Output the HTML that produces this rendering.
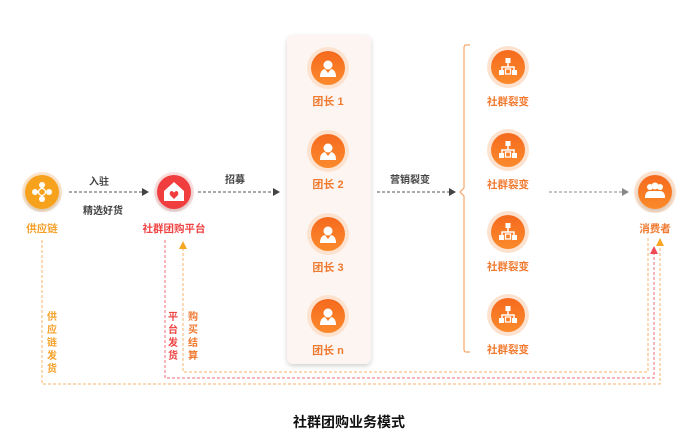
<!DOCTYPE html>
<html><head><meta charset="utf-8"><style>
html,body{margin:0;padding:0;background:#fff;width:698px;height:446px;overflow:hidden}
svg{display:block}
text{font-family:"Liberation Sans","Noto Sans CJK SC",sans-serif;font-weight:bold}
</style></head><body>
<svg width="698" height="446" viewBox="0 0 698 446" xmlns="http://www.w3.org/2000/svg">
<defs>
<filter id="sh" x="-20%" y="-10%" width="140%" height="120%"><feDropShadow dx="0" dy="2" stdDeviation="2.5" flood-color="#000" flood-opacity="0.18"/></filter>
<linearGradient id="og" x1="0" y1="0" x2="0" y2="1"><stop offset="0" stop-color="#f56a1e"/><stop offset="1" stop-color="#fb8a2c"/></linearGradient>
<g id="person"><circle cx="0" cy="-4" r="4.5" fill="#fff"/><path d="M-8 8 Q-8 1 -3 0 L0 4 L3 0 Q8 1 8 8 Z" fill="#fff"/></g>
<g id="tree"><rect x="-2.5" y="-9" width="5" height="5" fill="#fff"/><path d="M0 -4 V0 M-6 4 V0 H6 V4" stroke="#fff" stroke-width="1.5" fill="none"/><rect x="-9" y="3" width="5" height="5" fill="#fff"/><rect x="4" y="3" width="5" height="5" fill="#fff"/><rect x="-2.5" y="2" width="5" height="5" fill="none" stroke="#fff" stroke-width="1.3"/></g>
</defs>

<!-- panel -->
<rect x="287" y="35" width="84" height="329" rx="6" fill="#fcf5f1" filter="url(#sh)"/>

<!-- dashed bottom lines -->
<g fill="none" stroke-dasharray="3,2" stroke-width="1">
<path d="M42 240 V384 H660 V246" stroke="#f5b36a"/>
<path d="M165 240 V378 H654 V254" stroke="#ef6e78"/>
<path d="M648 238 V372 H183 V248" stroke="#f5b36a"/>
</g>
<path d="M656 246 L660 238 L664 246 Z" fill="#f5a623"/>
<path d="M650 254 L654 246 L658 254 Z" fill="#ef4a55"/>
<path d="M179 249 L183 241 L187 249 Z" fill="#f5a623"/>

<!-- horizontal arrows -->
<g stroke="#555" stroke-dasharray="3,2" stroke-width="1">
<line x1="69" y1="192" x2="143" y2="192"/>
<line x1="198" y1="192" x2="274" y2="192"/>
<line x1="377" y1="192" x2="450" y2="192"/>
<line x1="549" y1="192" x2="623" y2="192" stroke="#888"/>
</g>
<g fill="#444">
<path d="M142 188 L149 192 L142 196 Z"/>
<path d="M273 188 L280 192 L273 196 Z"/>
<path d="M449 188 L456 192 L449 196 Z"/>
<path d="M622 188 L629 192 L622 196 Z" fill="#888"/>
</g>
<g font-size="10" fill="#444" text-anchor="middle">
<text x="99" y="185">入驻</text>
<text x="103" y="214">精选好货</text>
<text x="235" y="183">招募</text>
<text x="410" y="183">营销裂变</text>
</g>

<!-- bracket -->
<path d="M470 45 H466 Q464 45 464 48 V188 L460 192 L464 196 V349 Q464 352 466 352 H470" fill="none" stroke="#f4a66a" stroke-width="1.2"/>

<!-- supply chain -->
<circle cx="42" cy="192" r="20" fill="#fde6cc"/>
<circle cx="42" cy="192" r="17" fill="#f7a21f" filter="url(#sh)"/>
<g fill="#fff"><circle cx="42" cy="185" r="3"/><circle cx="35" cy="192" r="3"/><circle cx="49" cy="192" r="3"/><circle cx="42" cy="199" r="3"/></g>
<circle cx="42" cy="192" r="3.5" fill="none" stroke="#fff" stroke-width="1.3"/>
<text x="42" y="232" font-size="10.5" fill="#f5a02a" text-anchor="middle">供应链</text>

<!-- platform -->
<circle cx="174" cy="192" r="20" fill="#fde0e0"/>
<circle cx="174" cy="192" r="17" fill="#f03c3c" filter="url(#sh)"/>
<path d="M174 182 L184 191 V201 H164 V191 Z" fill="#fff"/>
<path d="M174 199 L170 195 Q169 191 172 191 Q174 192 174 193 Q174 192 176 191 Q179 191 178 195 Z" fill="#f03c3c"/>
<text x="174" y="232" font-size="10.5" fill="#ef4444" text-anchor="middle">社群团购平台</text>

<!-- team leaders -->
<g>
<circle cx="328" cy="68" r="21" fill="#fde3cf"/><circle cx="328" cy="68" r="17" fill="url(#og)"/><use href="#person" x="328" y="69"/>
<circle cx="328" cy="151" r="21" fill="#fde3cf"/><circle cx="328" cy="151" r="17" fill="url(#og)"/><use href="#person" x="328" y="152"/>
<circle cx="328" cy="234" r="21" fill="#fde3cf"/><circle cx="328" cy="234" r="17" fill="url(#og)"/><use href="#person" x="328" y="235"/>
<circle cx="328" cy="316" r="21" fill="#fde3cf"/><circle cx="328" cy="316" r="17" fill="url(#og)"/><use href="#person" x="328" y="317"/>
</g>
<g font-size="11" fill="#f07a30" text-anchor="middle">
<text x="328" y="105">团长 1</text>
<text x="328" y="188">团长 2</text>
<text x="328" y="271">团长 3</text>
<text x="328" y="354">团长 n</text>
</g>

<!-- fission -->
<g>
<circle cx="508" cy="67" r="21" fill="#fde3cf"/><circle cx="508" cy="67" r="17" fill="url(#og)"/><use href="#tree" x="508" y="67"/>
<circle cx="508" cy="150" r="21" fill="#fde3cf"/><circle cx="508" cy="150" r="17" fill="url(#og)"/><use href="#tree" x="508" y="150"/>
<circle cx="508" cy="232" r="21" fill="#fde3cf"/><circle cx="508" cy="232" r="17" fill="url(#og)"/><use href="#tree" x="508" y="232"/>
<circle cx="508" cy="315" r="21" fill="#fde3cf"/><circle cx="508" cy="315" r="17" fill="url(#og)"/><use href="#tree" x="508" y="315"/>
</g>
<g font-size="10.5" fill="#f07a30" text-anchor="middle">
<text x="508" y="105">社群裂变</text>
<text x="508" y="188">社群裂变</text>
<text x="508" y="270">社群裂变</text>
<text x="508" y="353">社群裂变</text>
</g>

<!-- consumer -->
<circle cx="655" cy="192" r="21" fill="#fde3cf"/>
<circle cx="655" cy="192" r="17" fill="url(#og)" filter="url(#sh)"/>
<g fill="#fff"><circle cx="650" cy="187" r="3"/><circle cx="660" cy="187" r="3"/><circle cx="655" cy="186" r="3.5"/><path d="M645 198 Q645 191 650 191 H660 Q665 191 665 198 Z"/></g>
<text x="655" y="232" font-size="10.5" fill="#f07a30" text-anchor="middle">消费者</text>

<!-- vertical labels -->
<g font-size="10" text-anchor="middle">
<g fill="#f5a02a"><text x="52" y="320">供</text><text x="52" y="333">应</text><text x="52" y="346">链</text><text x="52" y="359">发</text><text x="52" y="372">货</text></g>
<g fill="#ef4444"><text x="173" y="320">平</text><text x="173" y="333">台</text><text x="173" y="346">发</text><text x="173" y="359">货</text></g>
<g fill="#f07a30"><text x="193" y="320">购</text><text x="193" y="333">买</text><text x="193" y="346">结</text><text x="193" y="359">算</text></g>
</g>

<text x="349" y="427" font-size="14" fill="#111" text-anchor="middle">社群团购业务模式</text>
</svg>
</body></html>
